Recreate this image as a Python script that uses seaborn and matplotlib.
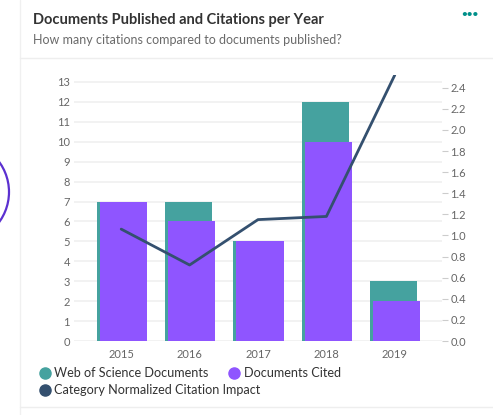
import numpy as np
import pandas as pd
import matplotlib
matplotlib.use("Agg")
import matplotlib.pyplot as plt
import seaborn as sns
from matplotlib.lines import Line2D
from matplotlib.patches import Circle

# chart data
years = ["2015", "2016", "2017", "2018", "2019"]
wos_documents = [7, 7, 5, 12, 3]
documents_cited = [7, 6, 5, 10, 2]
cnci = [1.06, 0.72, 1.15, 1.18, 2.52]

left_ticks = list(range(0, 14))
right_ticks = [0.0, 0.2, 0.4, 0.6, 0.8, 1.0, 1.2, 1.4, 1.6, 1.8, 2.0, 2.2, 2.4]

TEAL = "#45A29F"
PURPLE = "#8F55FF"
NAVY = "#34506F"
GRID = "#F0F0F0"
TICK_TXT = "#666666"

sns.set_style("white")
plt.rcParams["font.family"] = ["Lato", "DejaVu Sans"]

W, H = 493, 415
fig = plt.figure(figsize=(W / 100, H / 100), dpi=100)

def fx(px):
    return px / W

def fy(py):
    return 1 - py / H

# card frame lines
fig.add_artist(Line2D([fx(20), fx(20)], [0, 1], color="#F0F0F0", lw=1))
fig.add_artist(Line2D([fx(20), 1], [fy(58), fy(58)], color="#EEEEEE", lw=1))
fig.add_artist(Line2D([fx(20), 1], [fy(407), fy(407)], color="#EEEEEE", lw=1))

# partial circle on the left edge
circ_ax = fig.add_axes([0, 0, 1, 1], zorder=-1)
circ_ax.set_xlim(0, W)
circ_ax.set_ylim(H, 0)
circ_ax.axis("off")
circ_ax.add_patch(Circle((-42, 192), 51, fill=False, ec="#5B30D0", lw=1.6))

# header
fig.text(fx(33), fy(20), "Documents Published and Citations per Year",
         fontsize=10.5, fontweight="bold", color="#333333", va="center")
fig.text(fx(33), fy(40), "How many citations compared to documents published?",
         fontsize=9, color="#6A6A6A", va="center")
fig.text(fx(470), fy(14), "\u2022\u2022\u2022", fontsize=7, color="#00908A",
         ha="center", va="center", fontweight="bold")

# main axes
x0, x1, ytop, ybot = 74, 442, 75, 341
ax = fig.add_axes([fx(x0), fy(ybot), fx(x1 - x0), (ybot - ytop) / H])

df = pd.DataFrame({"year": years, "wos": wos_documents, "cited": documents_cited})
sns.barplot(data=df, x="year", y="wos", color=TEAL, width=0.69, ax=ax,
            saturation=1, zorder=2)
n_teal = len(ax.patches)
sns.barplot(data=df, x="year", y="cited", color=PURPLE, width=0.69, ax=ax,
            saturation=1, zorder=3)
for i, p in enumerate(ax.patches):
    shift = -0.015 if i < n_teal else 0.03
    p.set_x(p.get_x() + shift)
    p.set_linewidth(0)

ax.set_xlim(-0.69, 4.69)
ax.set_ylim(0, 13.35)
ax.set_yticks(left_ticks)
ax.grid(axis="y", color=GRID, lw=1.2, zorder=0)
ax.set_axisbelow(True)
ax.tick_params(axis="y", length=0, labelsize=8, labelcolor=TICK_TXT, pad=3)
ax.tick_params(axis="x", length=0, labelsize=8, labelcolor=TICK_TXT, pad=6)
ax.set_xlabel("")
ax.set_ylabel("")
for s in ax.spines.values():
    s.set_visible(False)

ax2 = ax.twinx()
sns.lineplot(x=np.arange(len(years)), y=cnci, ax=ax2, color=NAVY, lw=2, zorder=4)
ax2.set_ylim(0, 2.52)
ax2.set_yticks(right_ticks)
ax2.set_yticklabels([f"{t:.1f}" for t in right_ticks])
ax2.tick_params(axis="y", length=4, color="#CCCCCC", labelsize=8,
                labelcolor=TICK_TXT, pad=2)
for s in ax2.spines.values():
    s.set_visible(False)

# legend
def handle(c):
    return Line2D([], [], marker="o", ls="", color=c, markersize=8)

leg_kw = dict(frameon=False, fontsize=9.1, handletextpad=0.3,
              handlelength=0.9, borderpad=0, borderaxespad=0,
              labelcolor="#333333", loc="center left")
fig.legend([handle(TEAL), handle(PURPLE)],
           ["Web of Science Documents", "Documents Cited"],
           ncol=2, columnspacing=1.6, bbox_to_anchor=(fx(39), fy(373)), **leg_kw)
fig.legend([handle(NAVY)], ["Category Normalized Citation Impact"],
           bbox_to_anchor=(fx(39), fy(390)), **leg_kw)

fig.savefig("out.png", dpi=100)
